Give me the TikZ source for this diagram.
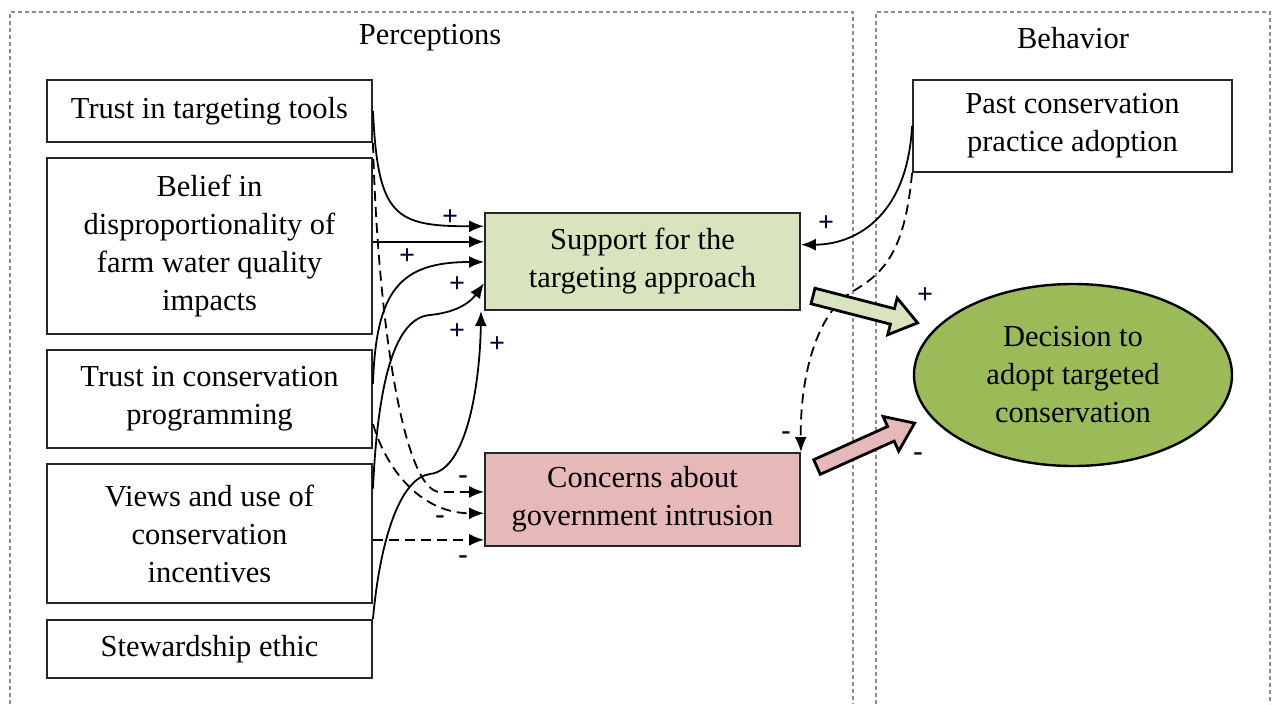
\documentclass[tikz,border=0pt]{standalone}
\usepackage{fontspec}
\setmainfont{Liberation Serif}
\usetikzlibrary{arrows.meta,calc,shapes.geometric}
\definecolor{supgreen}{HTML}{D7E4BD}
\definecolor{conpink}{HTML}{E6B9B8}
\definecolor{decgreen}{HTML}{9BBB59}
\begin{document}
\begin{tikzpicture}[x=1pt,y=-1pt,
  box/.style={draw=black!85, line width=1.9pt, fill=white, align=center, inner sep=0pt,
    font=\fontsize{30.5}{38}\selectfont},
  conn/.style={line width=1.8pt, -{Latex[length=15pt,width=12pt]}},
  dconn/.style={conn, dash pattern=on 10pt off 6pt},
  sgn/.style={font=\fontsize{28}{28}\selectfont\bfseries, text=black!80!blue, inner sep=0pt},
  group/.style={draw=black!45, line width=1.2pt, dash pattern=on 4pt off 3pt},
  title/.style={font=\fontsize{30.5}{38}\selectfont},
  blockarrow/.style={draw=black, line width=2.8pt, line join=miter},
]
\useasboundingbox (0,0) rectangle (1279,704);

% group frames
\draw[group] (10,704) -- (10,12) -- (853,12) -- (853,704);
\draw[group] (876,704) -- (876,12) -- (1270,12) -- (1270,704);
\node[title] (tper) at (430,38) {Perceptions};
\node[title] (tbeh) at (1073,38) {Behavior};

% left boxes
\node[box, minimum width=325pt, minimum height=62pt] (ttt) at (209.5,111) {Trust in targeting tools};
\node[box, minimum width=325pt, minimum height=176pt] (bel) at (209.5,246) {Belief in\\disproportionality of\\farm water quality\\impacts};
\node[box, minimum width=325pt, minimum height=98pt] (tcp) at (209.5,399) {Trust in conservation\\programming};
\node[box, minimum width=325pt, minimum height=139pt] (vus) at (209.5,533.5) {Views and use of\\conservation\\incentives};
\node[box, minimum width=325pt, minimum height=58pt] (stw) at (209.5,649) {Stewardship ethic};

% middle boxes
\node[box, fill=supgreen, minimum width=315pt, minimum height=97pt] (sup) at (642.5,261.5) {Support for the\\targeting approach};
\node[box, fill=conpink, minimum width=315pt, minimum height=93pt] (con) at (642.5,499.5) {Concerns about\\government intrusion};

% right
\node[box, minimum width=319pt, minimum height=92pt] (pst) at (1072.5,126) {Past conservation\\practice adoption};
\node[box, ellipse, fill=decgreen, line width=2.4pt, draw=black, minimum width=318pt, minimum height=182pt] (dec) at (1073,375) {Decision to\\adopt targeted\\conservation};

% target coordinates
\coordinate (t1) at ($(sup.north west)!0.144!(sup.south west)$);
\coordinate (t2) at ($(sup.north west)!0.30!(sup.south west)$);
\coordinate (t3) at ($(sup.north west)!0.505!(sup.south west)$);
\coordinate (t4) at ($(sup.north west)!0.72!(sup.south west)$);
\coordinate (t5) at ($(sup.south west)+(-3,0)$);
\coordinate (c1) at ($(con.north west)!0.42!(con.south west)$);
\coordinate (c2) at ($(con.north west)!0.645!(con.south west)$);
\coordinate (c3) at ($(con.north west)!0.925!(con.south west)$);
\coordinate (s1) at ($(sup.north east)!0.33!(sup.south east)$);

% solid connectors to support
\draw[conn] (ttt.east) .. controls +(5,105) and +(-90,0) .. (t1);
\draw[conn] (bel.east |- t2) -- (t2);
\draw[conn] ([yshift=15pt]tcp.east) .. controls (376,290) and (400,262) .. (t3);
\draw[conn] ([yshift=45pt]vus.east) .. controls (378,380) and (395,318) .. (430,315)
   .. controls (460,312) and (472,300) .. (t4);
\draw[conn] (stw.north east) .. controls (380,540) and (400,478) .. (430,474)
   .. controls (468,470) and (480,380) .. (t5);

% dashed connectors to concerns
\draw[dconn] (ttt.south east) .. controls (378,330) and (405,492) .. (440,492) -- (c1);
\draw[dconn] ([yshift=-25pt]tcp.east) .. controls +(15,50) and +(-60,0) .. (c2);
\draw[dconn] (vus.east |- c3) -- (c3);

% right side connectors
\draw[conn] (pst.west) .. controls +(-5,95) and +(50,0) .. (s1);
\draw[dconn] (pst.south west) .. controls (905,250) and (885,272) .. (855,290)
   .. controls (815,312) and (800,380) .. (con.north east);

% block arrows
\begin{scope}[shift={(813,296)}, rotate=-14.4]
  \draw[blockarrow, fill=supgreen] (0,-8) -- (82,-8) -- (82,-19) -- (108,0) -- (82,19) -- (82,8) -- (0,8) -- cycle;
\end{scope}
\begin{scope}[shift={(817,467)}, rotate=24.2]
  \draw[blockarrow, fill=conpink] (0,-8) -- (81,-8) -- (81,-19) -- (107,0) -- (81,19) -- (81,8) -- (0,8) -- cycle;
\end{scope}

% signs
\node[sgn] (p1) at (450,218) {+};
\node[sgn] (p2) at (407,257) {+};
\node[sgn] (p3) at (457,285) {+};
\node[sgn] (p4) at (457,332) {+};
\node[sgn] (p5) at (497,345) {+};
\node[sgn] (p6) at (826,224) {+};
\node[sgn] (p7) at (925,296) {+};
\node[sgn] (m1) at (463,480) {-};
\node[sgn] (m2) at (440,520) {-};
\node[sgn] (m3) at (463,560) {-};
\node[sgn] (m4) at (786,436) {-};
\node[sgn] (m5) at (918,457) {-};
\end{tikzpicture}
\end{document}
